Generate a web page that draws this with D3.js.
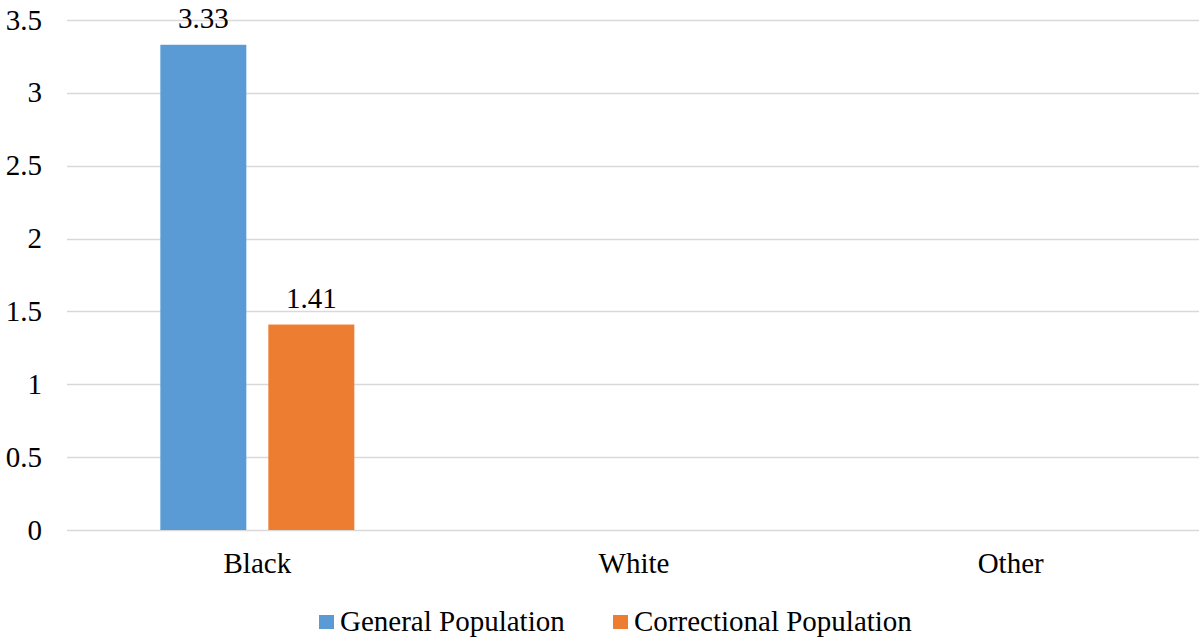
<!DOCTYPE html>
<html><head><meta charset="utf-8">
<script src="https://cdn.jsdelivr.net/npm/d3@7"></script>
<style>body{margin:0;background:#fff}svg{display:block}text{font-family:"Liberation Serif","Times New Roman",serif;fill:#000}</style>
</head><body><svg id="c" width="1199" height="638"></svg>
<script>
const categories = ["Black", "White", "Other"];
const seriesNames = ["General Population", "Correctional Population"];
const generalValues = [3.33, null, null];
const correctionalValues = [1.41, null, null];
const yTicks = [0, 0.5, 1, 1.5, 2, 2.5, 3, 3.5];
const colors = ["#5b9bd5", "#ed7d31"];

(function () {
const svg = d3.select("#c");
const fs = 29;
const pLeft = 67, pRight = 1199, pTop = 20, pBottom = 530;
const x = d3.scaleBand().domain(categories).range([pLeft + 2, pRight]);
const y = d3.scaleLinear().domain([0, 3.5]).range([pBottom, pTop]);
const inner = d3.scaleBand().domain(seriesNames).range([0, 194]).paddingInner(22/108);

svg.append("g").selectAll("line").data(yTicks).join("line")
  .attr("x1", pLeft).attr("x2", pRight)
  .attr("y1", d => Math.round(y(d)) + 0.5).attr("y2", d => Math.round(y(d)) + 0.5)
  .attr("stroke", "#d9d9d9").attr("stroke-width", 1.5);

svg.append("g").selectAll("text").data(yTicks).join("text")
  .attr("x", 42).attr("y", d => y(d) + 9.5)
  .attr("text-anchor", "end").attr("font-size", fs)
  .text(d => d);

svg.append("g").selectAll("text").data(categories).join("text")
  .attr("x", d => x(d) + x.bandwidth() / 2).attr("y", 573)
  .attr("text-anchor", "middle").attr("font-size", fs)
  .text(d => d);

const series = [generalValues, correctionalValues];
series.forEach((vals, si) => {
  const data = categories.map((c, i) => ({c, v: vals[i]})).filter(d => d.v != null);
  const g = svg.append("g");
  const off = x.bandwidth() / 2 - 97;
  g.selectAll("rect").data(data).join("rect")
    .attr("x", d => x(d.c) + off + inner(seriesNames[si]))
    .attr("width", inner.bandwidth())
    .attr("y", d => y(d.v)).attr("height", d => y(0) - y(d.v))
    .attr("fill", colors[si]);
  g.selectAll("text").data(data).join("text")
    .attr("x", d => x(d.c) + off + inner(seriesNames[si]) + inner.bandwidth() / 2)
    .attr("y", d => y(d.v) - 17)
    .attr("text-anchor", "middle").attr("font-size", fs)
    .text(d => d.v.toFixed(2));
});

const legendX = [319, 613];
const lg = svg.append("g");
seriesNames.forEach((n, i) => {
  lg.append("rect").attr("x", legendX[i]).attr("y", 615).attr("width", 15).attr("height", 14).attr("fill", colors[i]);
  lg.append("text").attr("x", legendX[i] + 21).attr("y", 631).attr("font-size", fs).text(n);
});
})();
</script></body></html>
